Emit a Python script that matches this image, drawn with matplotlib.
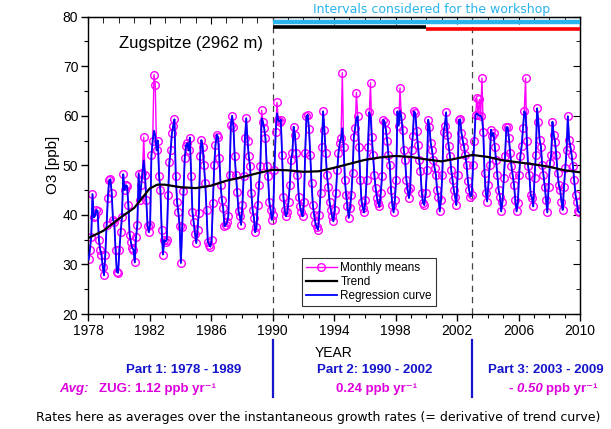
import numpy as np
import matplotlib
matplotlib.use("Agg")
import matplotlib.pyplot as plt
from matplotlib.ticker import MultipleLocator

plt.rcParams['font.family'] = ['Liberation Sans', 'DejaVu Sans']

# ---------------- data ----------------
start_year = 1978
monthly_means = [
    # 1978
    31.0, 33.0, 35.5, 44.2, 39.5, 39.8, 41.0, 40.8, 35.0, 33.0, 32.0, 29.5,
    # 1979
    27.8, 32.0, 38.0, 43.5, 47.0, 47.2, 44.5, 39.0, 38.5, 33.0, 28.5, 28.3,
    # 1980
    33.0, 36.5, 39.5, 48.2, 45.0, 46.0, 45.8, 42.0, 36.0, 34.5, 33.3, 33.0,
    # 1981
    30.4, 35.5, 38.0, 48.3, 43.0, 46.0, 48.5, 55.7, 48.0, 43.0, 37.8, 36.5,
    # 1982
    38.0, 52.0, 55.0, 68.3, 66.2, 53.0, 55.0, 47.8, 45.0, 37.0, 32.0, 34.9,
    # 1983
    34.6, 35.0, 44.0, 50.6, 53.0, 56.5, 58.0, 59.3, 47.9, 42.7, 40.5, 37.8,
    # 1984
    30.3, 37.5, 44.8, 51.5, 54.0, 54.5, 53.0, 55.6, 47.8, 40.6, 38.5, 36.2,
    # 1985
    34.3, 37.0, 40.4, 51.8, 55.1, 53.8, 50.1, 46.4, 41.0, 34.6, 34.0, 33.6,
    # 1986
    35.0, 42.4, 50.0, 54.1, 56.2, 55.7, 51.5, 46.0, 43.0, 41.4, 37.7, 38.0,
    # 1987
    38.5, 39.7, 48.0, 58.2, 60.0, 57.8, 51.8, 48.1, 44.7, 40.7, 39.7, 38.0,
    # 1988
    42.0, 47.8, 55.5, 59.5, 55.0, 51.8, 49.8, 44.4, 41.0, 39.4, 36.5, 37.5,
    # 1989
    42.0, 46.1, 49.8, 61.1, 58.8, 57.5, 55.5, 49.8, 47.8, 42.7, 41.0, 39.0,
    # 1990
    40.0, 49.1, 56.8, 62.7, 59.2, 58.8, 59.2, 52.0, 43.7, 41.0, 39.7, 40.5,
    # 1991
    42.7, 46.0, 51.1, 52.5, 57.8, 56.2, 52.5, 48.0, 43.7, 41.7, 40.5, 39.7,
    # 1992
    42.7, 52.5, 59.9, 60.2, 57.3, 52.0, 46.4, 42.0, 40.0, 38.3, 37.5, 37.0,
    # 1993
    40.0, 44.4, 53.8, 60.9, 57.2, 52.5, 48.0, 45.7, 42.7, 41.0, 39.7, 38.7,
    # 1994
    41.0, 44.4, 49.0, 52.5, 54.5, 55.5, 68.7, 53.8, 47.1, 44.0, 41.7, 39.4,
    # 1995
    41.4, 44.0, 48.4, 55.8, 57.5, 64.7, 59.9, 53.8, 47.1, 42.7, 41.4, 40.5,
    # 1996
    43.0, 47.1, 53.8, 60.7, 66.7, 55.8, 52.0, 48.1, 45.4, 43.5, 42.4, 41.7,
    # 1997
    44.4, 47.8, 59.2, 58.8, 57.2, 55.0, 52.0, 50.1, 45.1, 42.0, 40.5, 43.0,
    # 1998
    47.1, 60.9, 58.0, 65.6, 59.9, 57.2, 53.0, 51.1, 47.1, 45.0, 43.4, 45.4,
    # 1999
    53.1, 56.0, 60.9, 60.5, 57.0, 54.1, 51.0, 48.8, 44.5, 42.4, 42.0, 44.4,
    # 2000
    49.0, 59.2, 57.8, 54.5, 53.0, 51.1, 49.5, 48.1, 45.0, 43.7, 40.7, 43.0,
    # 2001
    48.0, 56.8, 58.0, 60.7, 56.2, 54.0, 51.8, 49.0, 47.1, 45.0, 43.7, 42.0,
    # 2002
    48.1, 59.2, 59.3, 56.5, 55.0, 53.8, 52.0, 50.1, 46.8, 45.0, 43.7, 44.0,
    # 2003
    50.0, 55.0, 60.2, 63.5, 60.2, 63.3, 60.0, 67.6, 56.8, 48.4, 44.4, 42.7,
    # 2004
    46.1, 50.0, 57.2, 56.0, 56.5, 53.8, 51.0, 48.1, 45.0, 43.7, 40.7, 42.7,
    # 2005
    47.4, 51.8, 57.7, 57.7, 55.5, 52.5, 49.8, 48.0, 46.1, 43.0, 40.7, 42.4,
    # 2006
    48.1, 51.9, 54.0, 57.5, 60.9, 67.6, 55.0, 49.8, 48.1, 44.1, 43.4, 41.7,
    # 2007
    47.4, 52.1, 61.5, 58.8, 55.1, 53.8, 50.0, 48.0, 45.7, 43.0, 40.5, 45.7,
    # 2008
    50.4, 52.0, 58.8, 56.2, 54.8, 52.0, 48.4, 46.0, 45.1, 42.7, 41.0, 45.7,
    # 2009
    49.4, 53.0, 59.9, 55.1, 53.8, 52.0, 49.8, 47.0, 44.0, 42.7, 40.7, 40.5,
]

# regression curve: follows the monthly means, but stays below the spikes
regression_months = [43, 51, 52, 135, 147, 198, 209, 220, 243, 303, 305, 307, 341]
regression_values = [51.0, 57.0, 56.0, 59.5, 60.5, 57.5, 59.5, 60.0, 61.0,
                     60.5, 60.0, 59.5, 60.5]

trend_years = [1978.0, 1979.0, 1980.0, 1981.0, 1981.5, 1982.0, 1982.5, 1983.0, 1984.0,
               1985.0, 1986.0, 1987.0, 1988.0, 1989.0, 1990.0, 1991.0, 1992.0, 1993.0,
               1994.0, 1995.0, 1996.0, 1997.0, 1998.0, 1999.0, 2000.0, 2001.0, 2002.0,
               2003.0, 2004.0, 2005.0, 2006.0, 2007.0, 2008.0, 2009.0, 2010.0]
trend_values = [35.3, 36.8, 39.2, 41.4, 43.3, 45.3, 46.1, 46.1, 45.6,
                45.4, 45.9, 46.9, 47.6, 48.4, 49.1, 49.0, 48.7, 48.8,
                49.5, 50.3, 51.1, 51.6, 51.9, 51.7, 51.2, 50.8, 51.4,
                52.1, 51.7, 51.0, 50.6, 50.2, 49.7, 49.0, 48.6]

interval_starts = [1990, 1990, 2000]
interval_ends = [2010, 2000, 2010]
interval_levels = [78.9, 78.0, 77.5]
interval_colors = ['#2ab4ec', 'black', '#ff0000']

part_boundaries = [1990, 2003]

x_ticks = list(range(1978, 2011, 4))
y_ticks = list(range(20, 81, 10))

# ---------------- figure ----------------
W, H = 611, 429
fig = plt.figure(figsize=(W / 100, H / 100), dpi=100)
L, R, T, B = 88, 580, 16.7, 314
ax = fig.add_axes([L / W, 1 - B / H, (R - L) / W, (B - T) / H])

months = np.arange(len(monthly_means))
t = start_year + (months + 0.5) / 12.0
reg = np.array(monthly_means, dtype=float)
reg[regression_months] = regression_values

mag = '#ff00ff'
ax.plot(t, monthly_means, color=mag, lw=1.0, marker='o', ms=5.5,
        mfc='none', mec=mag, mew=1.0, label='Monthly means', zorder=2)
ax.plot(t, reg, color='#0000ff', lw=1.3, label='Regression curve', zorder=3)
ax.plot(trend_years, trend_values, color='black', lw=1.6, label='Trend', zorder=4)

for xb in part_boundaries:
    ax.axvline(xb, color='#444444', lw=0.9, ls=(0, (5, 4)), zorder=1)

for s, e, lv, c in zip(interval_starts, interval_ends, interval_levels, interval_colors):
    ax.plot([s, e], [lv, lv], color=c, lw=2.6 if c != '#2ab4ec' else 3.2,
            solid_capstyle='butt', zorder=5)

ax.set_xlim(1978, 2010)
ax.set_ylim(20, 80)
ax.set_xticks(x_ticks)
ax.set_yticks(y_ticks)
ax.xaxis.set_minor_locator(MultipleLocator(1))
ax.yaxis.set_minor_locator(MultipleLocator(5))
ax.tick_params(axis='both', which='major', direction='out', length=5, width=1,
               labelsize=10, pad=2)
ax.tick_params(axis='both', which='minor', direction='out', length=3, width=0.8)
for sp in ax.spines.values():
    sp.set_linewidth(1.0)

# inward ticks on top and right
axt = ax.secondary_xaxis('top')
axt.set_xticks(x_ticks)
axt.xaxis.set_minor_locator(MultipleLocator(1))
axt.tick_params(which='major', direction='in', length=5, labeltop=False)
axt.tick_params(which='minor', direction='in', length=4)
axr = ax.secondary_yaxis('right')
axr.set_yticks(y_ticks)
axr.yaxis.set_minor_locator(MultipleLocator(5))
axr.tick_params(which='major', direction='in', length=5, labelright=False)
axr.tick_params(which='minor', direction='in', length=3)

ax.set_ylabel('O3 [ppb]', fontsize=11, labelpad=2)

ax.text(1980.0, 74.5, 'Zugspitze (2962 m)', fontsize=12, ha='left', va='center')

handles, labels = ax.get_legend_handles_labels()
order = [0, 2, 1]
leg = ax.legend([handles[i] for i in order], [labels[i] for i in order],
                loc='lower left', bbox_to_anchor=((302 - L) / (R - L), (B - 306) / (B - T)),
                fontsize=8.5, frameon=True, fancybox=False, edgecolor='black',
                borderpad=0.35, labelspacing=0.15, handlelength=2.6, handletextpad=0.3,
                borderaxespad=0)
leg.get_frame().set_linewidth(0.8)

def fx(px):
    return px / W

def fy(py):
    return 1 - py / H

fig.text(fx(432), fy(10), 'Intervals considered for the workshop', color='#2ab4ec',
         fontsize=9, ha='center', va='center', family='DejaVu Sans')

fig.text(fx(334), fy(353), 'YEAR', fontsize=10, ha='center', va='center')

blue_txt = '#1515cc'
pink_txt = '#dd00dd'
for xb in part_boundaries:
    xp = L + (xb - 1978) / 32 * (R - L)
    fig.add_artist(plt.Line2D([fx(xp), fx(xp)], [fy(340), fy(397)], color='#1515cc', lw=1.6))

fig.text(fx(184), fy(370), 'Part 1: 1978 - 1989', color=blue_txt, fontsize=9.5,
         fontweight='bold', ha='center', va='center')
fig.text(fx(375), fy(370), 'Part 2: 1990 - 2002', color=blue_txt, fontsize=9.5,
         fontweight='bold', ha='center', va='center')
fig.text(fx(546), fy(370), 'Part 3: 2003 - 2009', color=blue_txt, fontsize=9.5,
         fontweight='bold', ha='center', va='center')

fig.text(fx(59), fy(389), 'Avg:', color=pink_txt, fontsize=9.5, fontweight='bold',
         fontstyle='italic', ha='left', va='center')
fig.text(fx(99), fy(389), 'ZUG: 1.12 ppb yr\u207b\u00b9', color=pink_txt, fontsize=9.5,
         fontweight='bold', ha='left', va='center')
fig.text(fx(377), fy(389), '0.24 ppb yr\u207b\u00b9', color=pink_txt, fontsize=9.5,
         fontweight='bold', ha='center', va='center')
fig.text(fx(543), fy(389), '- 0.50', color=pink_txt, fontsize=9.5, fontweight='bold',
         fontstyle='italic', ha='right', va='center')
fig.text(fx(546), fy(389), 'ppb yr\u207b\u00b9', color=pink_txt, fontsize=9.5,
         fontweight='bold', ha='left', va='center')

fig.text(fx(318), fy(417), 'Rates here as averages over the instantaneous growth rates '
         '(= derivative of trend curve)', fontsize=9.0, ha='center', va='center',
         family='DejaVu Sans')

fig.savefig('out.png', dpi=100)
